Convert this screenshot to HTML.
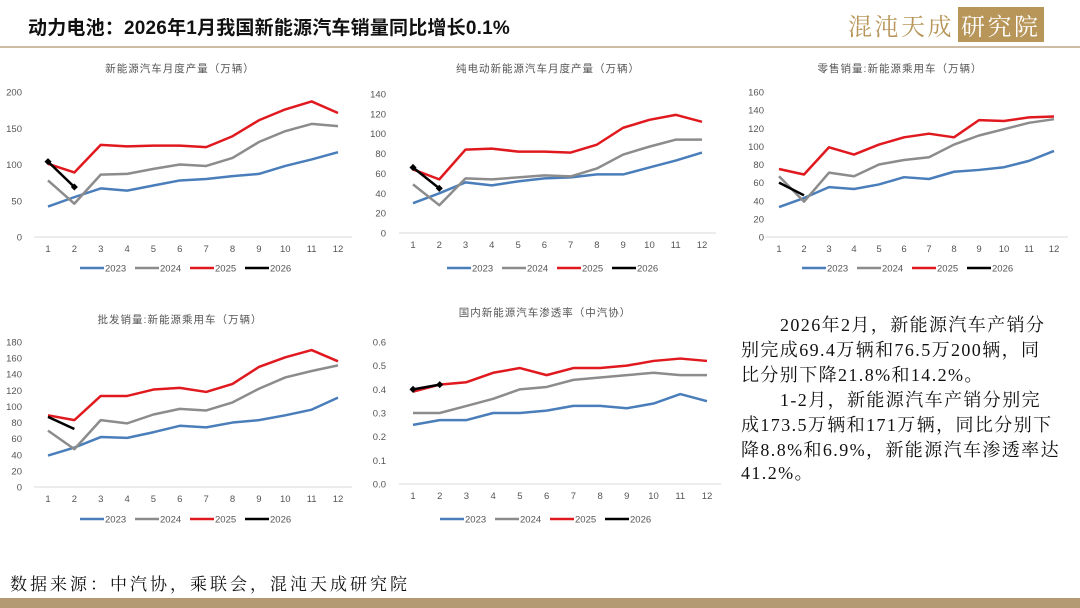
<!DOCTYPE html>
<html><head><meta charset="utf-8">
<style>
body{margin:0;width:1080px;height:608px;background:#fff;position:relative;overflow:hidden;font-family:"Liberation Sans","Noto Sans CJK SC",sans-serif}
.abs{position:absolute;white-space:nowrap}
#title{left:28px;top:13px;font-size:19px;font-weight:bold;color:#111;letter-spacing:0.2px}
#hline{left:0;top:46px;width:1080px;height:2px;background:#cdbda5}
#logo{left:848px;top:7px;font-family:"Noto Serif CJK SC",serif;font-size:24px;color:#b8965a;letter-spacing:2.5px}
#logo span{background:#b8965a;color:#fff;padding:0 3px;margin-left:4px}
#foot{left:10px;top:570px;font-size:17px;color:#111;font-family:"Liberation Serif","Noto Serif CJK SC",serif;letter-spacing:3px}
#bar{left:0;top:598px;width:1080px;height:10px;background:#b39a72}
.tx{font-family:"Liberation Serif","Noto Serif CJK SC",serif;font-size:18px;color:#111;left:741px;letter-spacing:1.4px}
svg text{font-family:"Liberation Sans","Noto Sans CJK SC",sans-serif}
</style></head><body>
<div class="abs" id="title">动力电池：2026年1月我国新能源汽车销量同比增长0.1%</div>
<div class="abs" id="hline"></div>
<div class="abs" id="logo">混沌天成<span>研究院</span></div>
<svg id="svg" width="1080" height="608" style="position:absolute;left:0;top:0"></svg>
<div class="abs tx" style="top:311px;left:780px">2026年2月，新能源汽车产销分</div>
<div class="abs tx" style="top:336px">别完成69.4万辆和76.5万200辆，同</div>
<div class="abs tx" style="top:361px">比分别下降21.8%和14.2%。</div>
<div class="abs tx" style="top:386px;left:780px">1-2月，新能源汽车产销分别完</div>
<div class="abs tx" style="top:411px">成173.5万辆和171万辆，同比分别下</div>
<div class="abs tx" style="top:436px">降8.8%和6.9%，新能源汽车渗透率达</div>
<div class="abs tx" style="top:459px">41.2%。</div>
<div class="abs" id="foot">数据来源：中汽协，乘联会，混沌天成研究院</div>
<div class="abs" id="bar"></div>
<script>
const months=[1,2,3,4,5,6,7,8,9,10,11,12];
const seriesNames=["2023","2024","2025","2026"];
const c1_2023=[42,55,67,64,71,78,80,84,87,98,107,117];
const c1_2024=[78,46,86,87,94,100,98,109,131,146,156,153];
const c1_2025=[101,89,127,125,126,126,124,139,161,176,187,171];
const c1_2026=[104,69];
const c1_ticks=[0,50,100,150,200];
const c2_2023=[30,40,51,48,52,55,56,59,59,66,73,81];
const c2_2024=[49,28,55,54,56,58,57,65,79,87,94,94];
const c2_2025=[64,54,84,85,82,82,81,89,106,114,119,112];
const c2_2026=[66,45];
const c2_ticks=[0,20,40,60,80,100,120,140];
const c3_2023=[33,43,55,53,58,66,64,72,74,77,84,95];
const c3_2024=[67,39,71,67,80,85,88,102,112,119,126,130];
const c3_2025=[75,69,99,91,102,110,114,110,129,128,132,133];
const c3_2026=[60,46];
const c3_ticks=[0,20,40,60,80,100,120,140,160];
const c4_2023=[39,49,62,61,68,76,74,80,83,89,96,111];
const c4_2024=[70,47,83,79,90,97,95,105,122,136,144,151];
const c4_2025=[89,83,113,113,121,123,118,128,149,161,170,156];
const c4_2026=[87,72];
const c4_ticks=[0,20,40,60,80,100,120,140,160,180];
const c5_2023=[0.25,0.27,0.27,0.30,0.30,0.31,0.33,0.33,0.32,0.34,0.38,0.35];
const c5_2024=[0.30,0.30,0.33,0.36,0.40,0.41,0.44,0.45,0.46,0.47,0.46,0.46];
const c5_2025=[0.39,0.42,0.43,0.47,0.49,0.46,0.49,0.49,0.50,0.52,0.53,0.52];
const c5_2026=[0.40,0.42];
const c5_ticks=["0.0","0.1","0.2","0.3","0.4","0.5","0.6"];
const colors=["#4a7ebb","#8c8c8c","#e0191f","#000"];
const svg=document.getElementById('svg');
const NS="http://www.w3.org/2000/svg";
function mk(t,a){const e=document.createElementNS(NS,t);for(const k in a)e.setAttribute(k,a[k]);svg.appendChild(e);return e;}
function chart(id,title,tcx,ty,series,ticks,x1,x12,y0,ytop,labX,legY,legX,dia){
  const tv=ticks.map(Number);const max=tv[tv.length-1];
  const xs=i=>x1+(x12-x1)*(i)/11;const ys=v=>y0-(y0-ytop)*v/max;
  let t=mk('text',{x:tcx,y:ty,'font-size':10.5,'text-anchor':'middle',fill:'#555','letter-spacing':'1'});t.textContent=title;
  
  
  let ax=mk('line',{x1:x1-14,x2:x12+14,y1:y0,y2:y0,stroke:'#d9d9d9','stroke-width':1});
  
  
  ticks.forEach(tk=>{let e=mk('text',{x:labX,y:ys(Number(tk))+3.5,'font-size':9.5,'text-anchor':'end',fill:'#555'});e.textContent=tk;
    
    });
  months.forEach((m,i)=>{let e=mk('text',{x:xs(i),y:y0+15,'font-size':9.5,'text-anchor':'middle',fill:'#555'});e.textContent=m;
    
    });
  series.forEach((s,k)=>{
    const pts=s.map((v,i)=>xs(i)+','+ys(v)).join(' ');
    let p=mk('polyline',{points:pts,fill:'none',stroke:colors[k],'stroke-width':2.5,'stroke-linejoin':'round'});
    
    
    if(k==3&&dia){s.forEach((v,i)=>{let d=mk('rect',{x:xs(i)-2.5,y:ys(v)-2.5,width:5,height:5,fill:'#000',transform:`rotate(45 ${xs(i)} ${ys(v)})`});
      
      });}
    const lx=legX+k*55;
    let l=mk('line',{x1:lx,x2:lx+24,y1:legY,y2:legY,stroke:colors[k],'stroke-width':2.5});
    
    
    let lt=mk('text',{x:lx+25,y:legY+3.5,'font-size':9.5,fill:'#555'});lt.textContent=seriesNames[k];
    
    
  });
}
chart('production',"新能源汽车月度产量（万辆）",180,72,[c1_2023,c1_2024,c1_2025,c1_2026],c1_ticks,48,338,237,92,22,268,80,true);
chart('bev-production',"纯电动新能源汽车月度产量（万辆）",548,72,[c2_2023,c2_2024,c2_2025,c2_2026],c2_ticks,413,702,233,94,386,268,447,true);
chart('retail',"零售销量:新能源乘用车（万辆）",900,72,[c3_2023,c3_2024,c3_2025,c3_2026],c3_ticks,779,1054,237,92,764,268,802,false);
chart('wholesale',"批发销量:新能源乘用车（万辆）",180,323,[c4_2023,c4_2024,c4_2025,c4_2026],c4_ticks,48,338,487,342,22,519,80,false);
chart('penetration',"国内新能源汽车渗透率（中汽协）",545,316,[c5_2023,c5_2024,c5_2025,c5_2026],c5_ticks,413,707,484,342,386,519,440,true);
</script>
</body></html>
